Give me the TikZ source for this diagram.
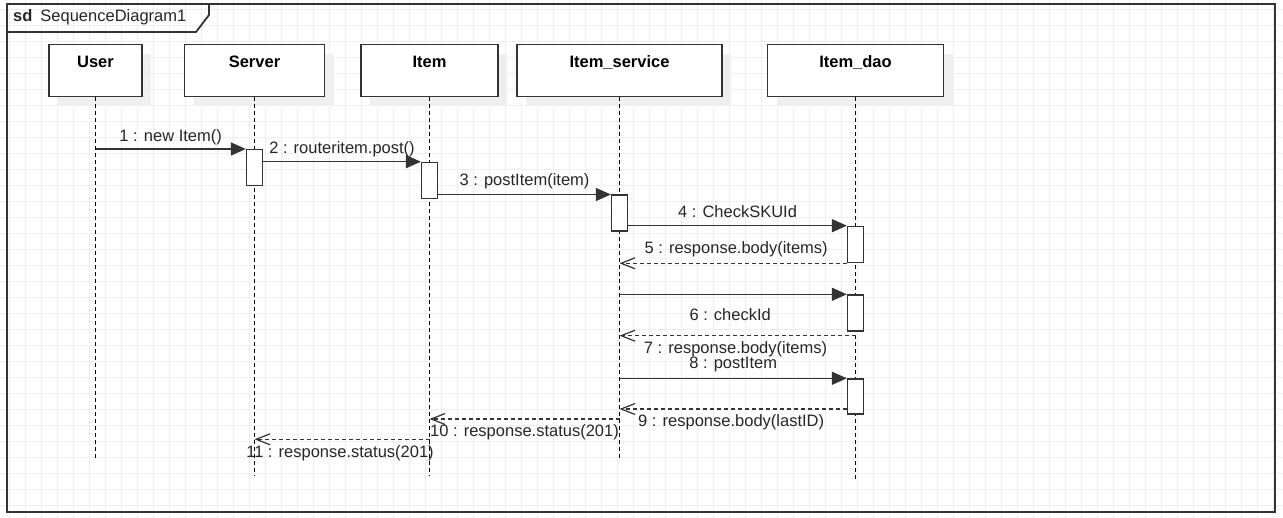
\documentclass[tikz,border=0pt]{standalone}
\usepackage{fontspec}
\setmainfont{Liberation Sans}
\usetikzlibrary{arrows.meta,shadows}
\definecolor{framegray}{HTML}{333333}
\definecolor{gridgray}{HTML}{EEEEEE}
\definecolor{shadowgray}{HTML}{EFEFEF}
\definecolor{textgray}{HTML}{262626}

\begin{document}
\begin{tikzpicture}[
    x=1pt, y=-1pt,
    lbl/.style={font=\fontsize{16.5}{19}\selectfont, text=textgray, inner sep=0pt, anchor=base},
    head/.style={draw=framegray, fill=white, line width=1.5pt, anchor=north, minimum height=52pt,
        inner ysep=5pt, text height=18pt, text depth=24pt, text=black,
        font=\bfseries\fontsize{16.5}{19}\selectfont,
        drop shadow={shadow xshift=9pt, shadow yshift=-9pt, fill=shadowgray, opacity=1}},
    act/.style={draw=framegray, fill=white, line width=1.3pt, anchor=north, inner sep=0pt,
        minimum width=16pt, minimum height=36pt},
    lifeline/.style={draw=black, line width=1.1pt, dash pattern=on 4pt off 3pt},
    sync/.style={draw=framegray, line width=1.4pt, -{Triangle[length=15pt, width=13pt]}},
    reply/.style={draw=framegray, line width=1.2pt, dash pattern=on 4pt off 3pt,
        -{Straight Barb[length=14pt, width=11pt]}},
    framebox/.style={draw=framegray, line width=1.8pt},
    gridline/.style={draw=gridgray, line width=0.9pt},
]
\useasboundingbox (0,0) rectangle (1283,518);

% Background grid
\foreach \gx in {9,25,...,1283} \draw[gridline] (\gx,0) -- (\gx,518);
\foreach \gy in {9,25,...,518} \draw[gridline] (0,\gy) -- (1283,\gy);

% Frame
\draw[framebox] (7,4) rectangle (1275,512);
\draw[framebox] (7,32) -- (196,32) -- (209,15) -- (209,4);
\node[lbl, anchor=base west] (title) at (13,21.7) {\textbf{sd}\hspace{8pt}SequenceDiagram1};

% Participants
\node[head, minimum width=93pt] (user) at (95.5,44) {User};
\node[head, minimum width=140pt] (server) at (254.5,44) {Server};
\node[head, minimum width=137pt] (item) at (429.5,44) {Item};
\node[head, minimum width=205pt] (itemsvc) at (619.5,44) {Item\_service};
\node[head, minimum width=176pt] (itemdao) at (855.5,44) {Item\_dao};

% Lifelines
\coordinate (userend) at (0,460);
\coordinate (serverend) at (0,476);
\coordinate (itemend) at (0,476);
\coordinate (itemsvcend) at (0,458);
\coordinate (itemdaoend) at (0,482);
\draw[lifeline] (user.south) -- (user.south |- userend);
\draw[lifeline] (server.south) -- (server.south |- serverend);
\draw[lifeline] (item.south) -- (item.south |- itemend);
\draw[lifeline] (itemsvc.south) -- (itemsvc.south |- itemsvcend);
\draw[lifeline] (itemdao.south) -- (itemdao.south |- itemdaoend);

% Message heights
\coordinate (y1) at (0,149);
\coordinate (y2) at (0,161.7);
\coordinate (y3) at (0,194.5);
\coordinate (y4) at (0,225.7);
\coordinate (y5) at (0,263.3);
\coordinate (y6) at (0,294.3);
\coordinate (y7) at (0,335.7);
\coordinate (y8) at (0,378.3);
\coordinate (y9) at (0,409);
\coordinate (y10) at (0,419);
\coordinate (y11) at (0,439.3);

% Activations
\node[act] (actsrv) at (server |- y1) {};
\node[act] (actitem) at (item |- y2) {};
\node[act] (actsvc) at (itemsvc |- y3) {};
\node[act] (actdao1) at (itemdao |- y4) {};
\node[act] (actdao2) at (itemdao |- y6) {};
\node[act, minimum height=35pt] (actdao3) at (itemdao |- y8) {};

% Calls
\draw[sync] (user |- y1) -- (actsrv.north west)
    node[lbl, midway, yshift=7.6pt] {1 : new Item()};
\draw[sync] (actsrv.east |- y2) -- (actitem.north west)
    node[lbl, midway, yshift=7.7pt] {2 : routeritem.post()};
\draw[sync] (actitem.east |- y3) -- (actsvc.north west)
    node[lbl, midway, yshift=9pt] {3 : postItem(item)};
\draw[sync] (actsvc.east |- y4) -- (actdao1.north west)
    node[lbl, midway, yshift=8.4pt] {4 : CheckSKUId};
\draw[sync] (itemsvc |- y6) -- (actdao2.north west)
    node[lbl, midway, xshift=-3pt, yshift=-26.4pt] {6 : checkId};
\draw[sync] (itemsvc |- y8) -- (actdao3.north west)
    node[lbl, midway, yshift=10pt] {8 : postItem};

% Replies
\draw[reply] (actdao1.west |- y5) -- (itemsvc |- y5)
    node[lbl, midway, xshift=3pt, yshift=9.3pt] {5 : response.body(items)};
\draw[reply] (itemdao |- y7) -- (itemsvc |- y7)
    node[lbl, midway, xshift=-2pt, yshift=-18.3pt] {7 : response.body(items)};
\draw[reply] (actdao3.west |- y9) -- (itemsvc |- y9)
    node[lbl, midway, xshift=-2pt, yshift=-17.7pt] {9 : response.body(lastID)};
\draw[reply] (itemsvc |- y10) -- (item |- y10)
    node[lbl, midway, yshift=-17.7pt] {10 : response.status(201)};
\draw[reply] (item |- y11) -- (server |- y11)
    node[lbl, midway, xshift=-2pt, yshift=-18pt] {11 : response.status(201)};
\end{tikzpicture}
\end{document}
